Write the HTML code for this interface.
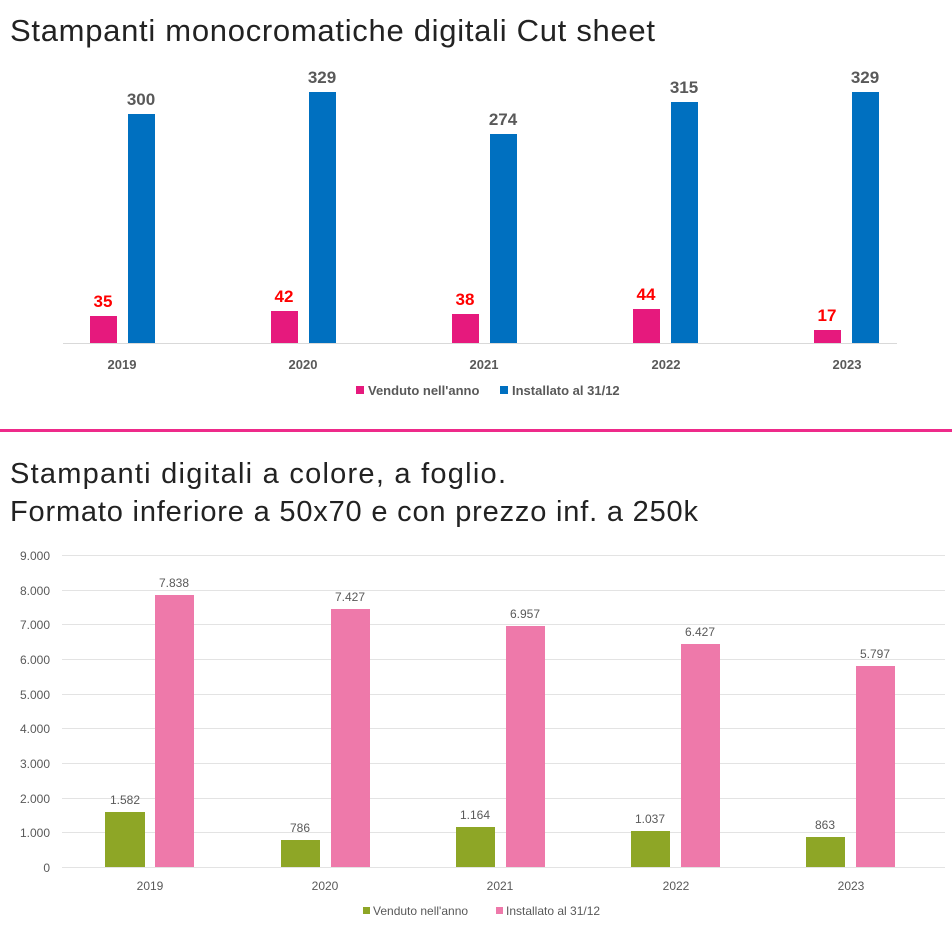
<!DOCTYPE html><html><head><meta charset="utf-8"><style>body{margin:0;background:#fff}svg{display:block}</style></head><body>
<svg width="952" height="936" xmlns="http://www.w3.org/2000/svg" font-family="Liberation Sans, sans-serif">
<text x="10" y="41" font-size="31" fill="#222" textLength="645" lengthAdjust="spacing">Stampanti monocromatiche digitali Cut sheet</text>
<line x1="63" y1="343.5" x2="897" y2="343.5" stroke="#d9d9d9"/>
<g font-weight="bold" font-size="17" text-anchor="middle" fill="#ff0000">
<rect x="90" y="316" width="27" height="27" fill="#e6197d"/><text x="103" y="307">35</text>
<rect x="271" y="311" width="27" height="32" fill="#e6197d"/><text x="284" y="302">42</text>
<rect x="452" y="314" width="27" height="29" fill="#e6197d"/><text x="465" y="305">38</text>
<rect x="633" y="309" width="27" height="34" fill="#e6197d"/><text x="646" y="300">44</text>
<rect x="814" y="330" width="27" height="13" fill="#e6197d"/><text x="827" y="321">17</text>
</g>
<g font-weight="bold" font-size="17" text-anchor="middle" fill="#595959">
<rect x="128" y="114" width="27" height="229" fill="#0070c0"/><text x="141" y="105">300</text>
<rect x="309" y="92" width="27" height="251" fill="#0070c0"/><text x="322" y="83">329</text>
<rect x="490" y="134" width="27" height="209" fill="#0070c0"/><text x="503" y="125">274</text>
<rect x="671" y="102" width="27" height="241" fill="#0070c0"/><text x="684" y="93">315</text>
<rect x="852" y="92" width="27" height="251" fill="#0070c0"/><text x="865" y="83">329</text>
</g>
<g font-weight="bold" font-size="13" text-anchor="middle" fill="#595959">
<text x="122" y="369">2019</text><text x="303" y="369">2020</text><text x="484" y="369">2021</text><text x="666" y="369">2022</text><text x="847" y="369">2023</text>
</g>
<g font-size="13" font-weight="bold" fill="#595959">
<rect x="356" y="386" width="8" height="8" fill="#e6197d"/><text x="368" y="395">Venduto nell'anno</text>
<rect x="500" y="386" width="8" height="8" fill="#0070c0"/><text x="512" y="395">Installato al 31/12</text>
</g>
<rect x="0" y="429" width="952" height="3" fill="#ee2a8a"/>
<text x="10" y="483" font-size="29" fill="#222" textLength="496" lengthAdjust="spacing">Stampanti digitali a colore, a foglio.</text>
<text x="10" y="521" font-size="29" fill="#222" textLength="688" lengthAdjust="spacing">Formato inferiore a 50x70 e con prezzo inf. a 250k</text>
<g stroke="#e3e3e3">
<line x1="62" x2="945" y1="555.5" y2="555.5"/><line x1="62" x2="945" y1="590.5" y2="590.5"/><line x1="62" x2="945" y1="624.5" y2="624.5"/><line x1="62" x2="945" y1="659.5" y2="659.5"/><line x1="62" x2="945" y1="694.5" y2="694.5"/><line x1="62" x2="945" y1="728.5" y2="728.5"/><line x1="62" x2="945" y1="763.5" y2="763.5"/><line x1="62" x2="945" y1="798.5" y2="798.5"/><line x1="62" x2="945" y1="832.5" y2="832.5"/><line x1="62" x2="945" y1="867.5" y2="867.5"/>
</g>
<g font-size="12" fill="#595959" text-anchor="end">
<text x="50" y="560">9.000</text><text x="50" y="595">8.000</text><text x="50" y="629">7.000</text><text x="50" y="664">6.000</text><text x="50" y="699">5.000</text><text x="50" y="733">4.000</text><text x="50" y="768">3.000</text><text x="50" y="803">2.000</text><text x="50" y="837">1.000</text><text x="50" y="872">0</text>
</g>
<g font-size="12" fill="#595959" text-anchor="middle">
<rect x="105" y="812" width="40" height="55" fill="#8ea626"/><text x="125" y="804">1.582</text>
<rect x="155" y="595" width="39" height="272" fill="#ee79aa"/><text x="174" y="587">7.838</text>
<rect x="281" y="840" width="39" height="27" fill="#8ea626"/><text x="300" y="832">786</text>
<rect x="331" y="609" width="39" height="258" fill="#ee79aa"/><text x="350" y="601">7.427</text>
<rect x="456" y="827" width="39" height="40" fill="#8ea626"/><text x="475" y="819">1.164</text>
<rect x="506" y="626" width="39" height="241" fill="#ee79aa"/><text x="525" y="618">6.957</text>
<rect x="631" y="831" width="39" height="36" fill="#8ea626"/><text x="650" y="823">1.037</text>
<rect x="681" y="644" width="39" height="223" fill="#ee79aa"/><text x="700" y="636">6.427</text>
<rect x="806" y="837" width="39" height="30" fill="#8ea626"/><text x="825" y="829">863</text>
<rect x="856" y="666" width="39" height="201" fill="#ee79aa"/><text x="875" y="658">5.797</text>
<text x="150" y="890">2019</text><text x="325" y="890">2020</text><text x="500" y="890">2021</text><text x="676" y="890">2022</text><text x="851" y="890">2023</text>
</g>
<g font-size="12" fill="#595959">
<rect x="363" y="907" width="7" height="7" fill="#8ea626"/><text x="373" y="915">Venduto nell'anno</text>
<rect x="496" y="907" width="7" height="7" fill="#ee79aa"/><text x="506" y="915">Installato al 31/12</text>
</g>
</svg>
</body></html>
